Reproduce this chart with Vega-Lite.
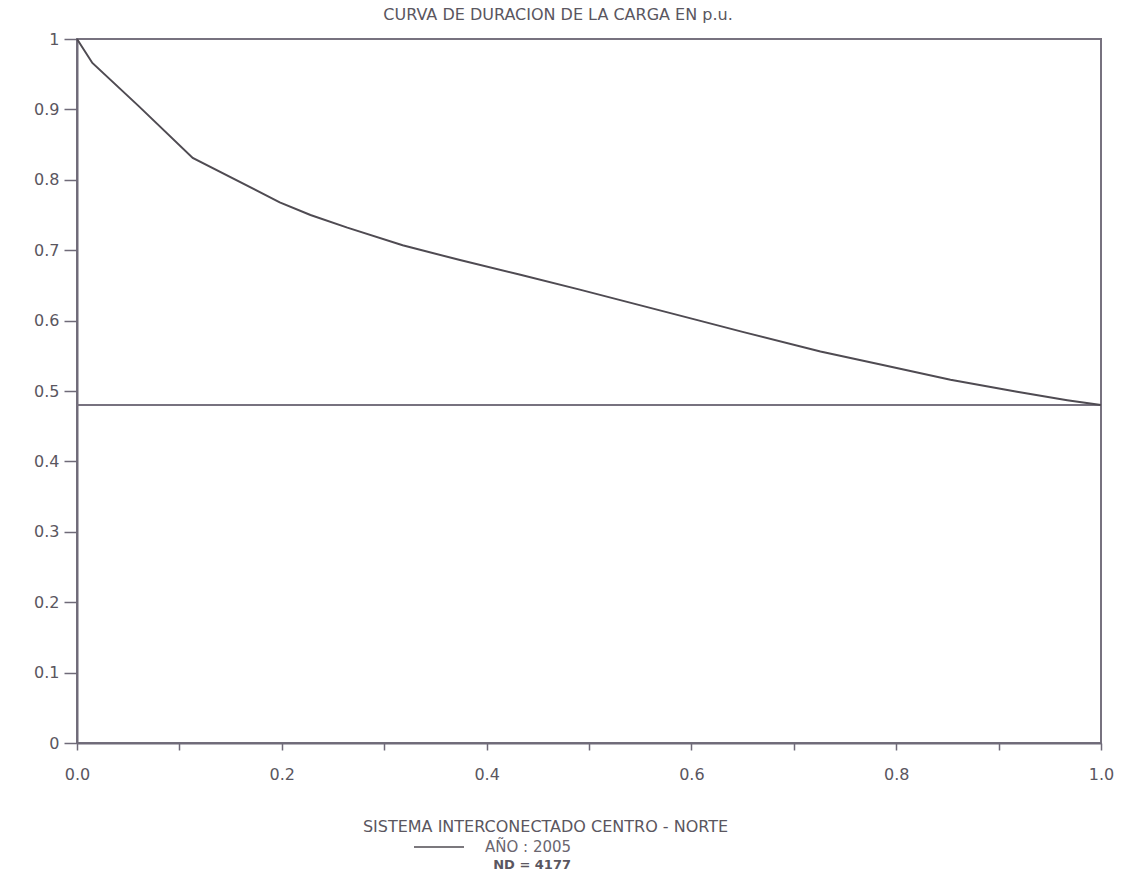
{
  "$schema": "https://vega.github.io/schema/vega-lite/v6.json",
  "autosize": "none",
  "width": 1024,
  "height": 704,
  "padding": {"left": 77, "top": 39, "right": 24, "bottom": 142},
  "background": "white",
  "title": {
    "text": "CURVA DE DURACION DE LA CARGA EN p.u.",
    "font": "DejaVu Sans",
    "fontSize": 16,
    "fontWeight": "normal",
    "color": "#5a5660",
    "anchor": "middle",
    "offset": 8,
    "dx": -31
  },
  "config": {
    "view": {"stroke": "#77727f", "strokeWidth": 2},
    "axis": {
      "grid": false,
      "domainColor": "#6f6a78",
      "domainWidth": 2,
      "tickColor": "#6f6a78",
      "tickWidth": 1.5,
      "labelFont": "DejaVu Sans",
      "labelFontSize": 16,
      "labelColor": "#5a5660",
      "titleFont": "DejaVu Sans",
      "titleFontSize": 16,
      "titleFontWeight": "normal",
      "titleColor": "#5a5660"
    }
  },
  "datasets": {
    "curva": [
      {"fraccion": 0.0, "carga": 1.0, "serie": "AÑO : 2005"},
      {"fraccion": 0.015, "carga": 0.966, "serie": "AÑO : 2005"},
      {"fraccion": 0.06, "carga": 0.905, "serie": "AÑO : 2005"},
      {"fraccion": 0.113, "carga": 0.831, "serie": "AÑO : 2005"},
      {"fraccion": 0.198, "carga": 0.768, "serie": "AÑO : 2005"},
      {"fraccion": 0.228, "carga": 0.75, "serie": "AÑO : 2005"},
      {"fraccion": 0.264, "carga": 0.732, "serie": "AÑO : 2005"},
      {"fraccion": 0.318, "carga": 0.707, "serie": "AÑO : 2005"},
      {"fraccion": 0.374, "carga": 0.686, "serie": "AÑO : 2005"},
      {"fraccion": 0.433, "carga": 0.665, "serie": "AÑO : 2005"},
      {"fraccion": 0.491, "carga": 0.644, "serie": "AÑO : 2005"},
      {"fraccion": 0.605, "carga": 0.601, "serie": "AÑO : 2005"},
      {"fraccion": 0.65, "carga": 0.584, "serie": "AÑO : 2005"},
      {"fraccion": 0.726, "carga": 0.556, "serie": "AÑO : 2005"},
      {"fraccion": 0.787, "carga": 0.537, "serie": "AÑO : 2005"},
      {"fraccion": 0.853, "carga": 0.516, "serie": "AÑO : 2005"},
      {"fraccion": 0.918, "carga": 0.499, "serie": "AÑO : 2005"},
      {"fraccion": 0.967, "carga": 0.487, "serie": "AÑO : 2005"},
      {"fraccion": 1.0, "carga": 0.48, "serie": "AÑO : 2005"}
    ],
    "minimo": [{"carga": 0.48}]
  },
  "layer": [
    {
      "data": {"name": "minimo"},
      "mark": {"type": "rule", "color": "#77727f", "strokeWidth": 2},
      "encoding": {
        "y": {"field": "carga", "type": "quantitative", "scale": {"domain": [0, 1]}}
      }
    },
    {
      "data": {"name": "curva"},
      "mark": {"type": "line", "strokeWidth": 2, "clip": false},
      "encoding": {
        "x": {
          "field": "fraccion",
          "type": "quantitative",
          "scale": {"domain": [0, 1], "nice": false},
          "axis": {
            "values": [0, 0.1, 0.2, 0.3, 0.4, 0.5, 0.6, 0.7, 0.8, 0.9, 1.0],
            "labelExpr": "(round(datum.value * 10) % 2 == 0) ? format(datum.value, '.1f') : ''",
            "tickSize": 7,
            "labelPadding": 16,
            "labelFlush": false,
            "title": "SISTEMA INTERCONECTADO CENTRO - NORTE",
            "titlePadding": 36,
            "titleX": 468
          }
        },
        "y": {
          "field": "carga",
          "type": "quantitative",
          "scale": {"domain": [0, 1], "nice": false},
          "axis": {
            "values": [0, 0.1, 0.2, 0.3, 0.4, 0.5, 0.6, 0.7, 0.8, 0.9, 1.0],
            "labelExpr": "datum.value == 0 ? '0' : datum.value == 1 ? '1' : format(datum.value, '.1f')",
            "tickSize": 13,
            "labelPadding": 5,
            "labelFlush": false,
            "title": null
          }
        },
        "color": {
          "field": "serie",
          "type": "nominal",
          "scale": {"range": ["#4f4b52"]},
          "legend": {
            "orient": "none",
            "legendX": 336,
            "legendY": 782,
            "symbolType": "stroke",
            "symbolSize": 2500,
            "symbolStrokeWidth": 1.5,
            "symbolStrokeColor": "#8a8590",
            "labelFont": "DejaVu Sans",
            "labelFontSize": 15,
            "labelColor": "#6a6670",
            "labelOffset": 20,
            "title": "ND  = 4177",
            "titleOrient": "bottom",
            "titleAnchor": "end",
            "titleFont": "DejaVu Sans",
            "titleFontSize": 13,
            "titleFontWeight": "bold",
            "titleColor": "#5a5660",
            "titlePadding": 4
          }
        }
      }
    }
  ]
}
